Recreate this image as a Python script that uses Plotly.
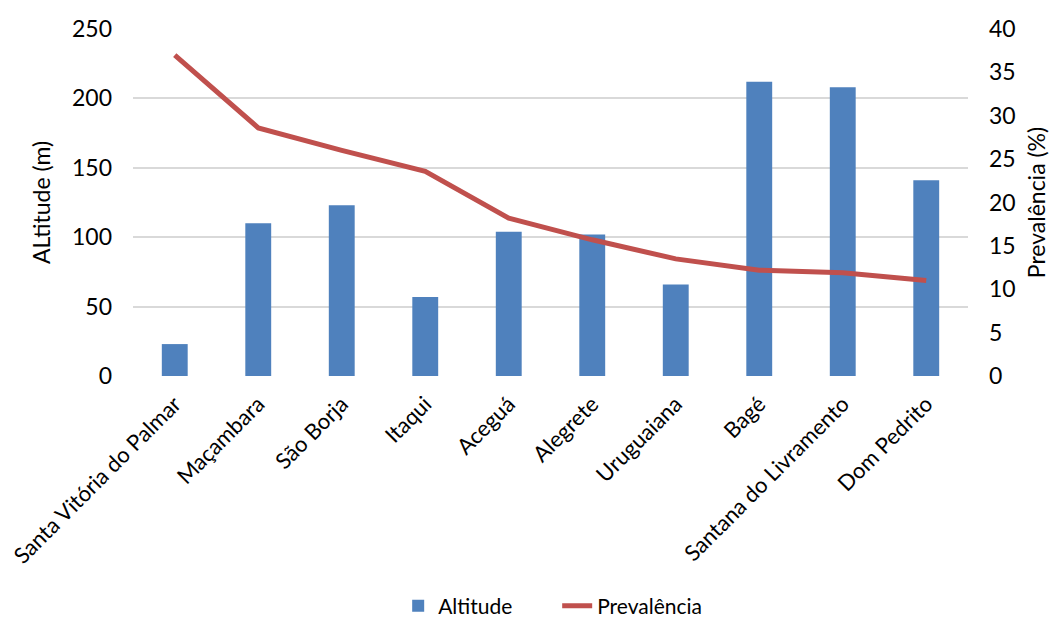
import plotly.graph_objects as go

categories = ["Santa Vitória do Palmar", "Maçambara", "São Borja", "Itaqui", "Aceguá",
              "Alegrete", "Uruguaiana", "Bagé", "Santana do Livramento", "Dom Pedrito"]
altitude = [23, 110, 123, 57, 104, 102, 66, 212, 208, 141]
prevalencia = [37.0, 28.6, 26.0, 23.6, 18.2, 15.7, 13.5, 12.2, 11.9, 11.0]

left_ticks = [0, 50, 100, 150, 200, 250]
right_ticks = [0, 5, 10, 15, 20, 25, 30, 35, 40]

FONT = "Lato"

fig = go.Figure()
fig.add_trace(go.Bar(x=categories, y=altitude, name="Altitude",
                     marker=dict(color="#4F81BD", line=dict(width=0)), yaxis="y"))
fig.add_trace(go.Scatter(x=categories, y=prevalencia, name="Prevalência", mode="lines",
                         line=dict(color="#C0504D", width=5), yaxis="y2"))

fig.update_layout(
    width=1061, height=623,
    margin=dict(l=133, r=93, t=29, b=247),
    paper_bgcolor="white", plot_bgcolor="white",
    font=dict(family=FONT, size=22, color="#000000"),
    bargap=0.69,
    showlegend=True,
    legend=dict(orientation="h", x=0.508, xanchor="center", xref="paper",
                y=1 - 606 / 623, yanchor="middle", yref="container",
                font=dict(size=21), traceorder="normal",
                entrywidth=114, entrywidthmode="pixels"),
    xaxis=dict(tickangle=-45, showgrid=False, showline=False, ticks="",
               tickfont=dict(size=22), ticklabelstandoff=10, automargin=False),
    yaxis=dict(range=[0, 250], tickvals=left_ticks, showgrid=True, gridcolor="#D9D9D9",
               gridwidth=1.5, zeroline=False, showline=False, ticks="",
               tickfont=dict(size=23), ticklabelstandoff=20,
               title=dict(text="ALtitude (m)", font=dict(size=23), standoff=14),
               automargin=False),
    yaxis2=dict(range=[0, 40], tickvals=right_ticks, overlaying="y", side="right",
                showgrid=False, zeroline=False, showline=False, ticks="",
                tickfont=dict(size=23), ticklabelstandoff=20,
                title=dict(text="Prevalência (%)", font=dict(size=23), standoff=14),
                automargin=False),
)

fig.write_html("out.html")
